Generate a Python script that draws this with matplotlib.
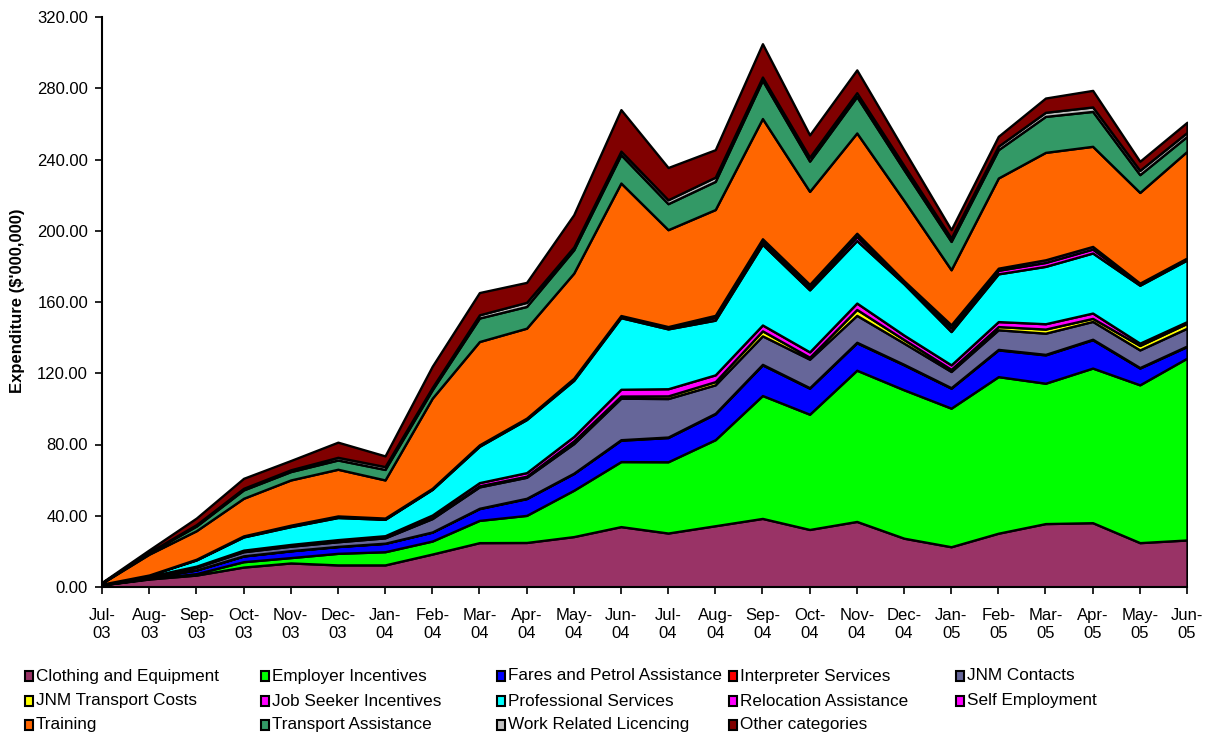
import matplotlib
matplotlib.use("Agg")
import matplotlib.pyplot as plt
from matplotlib.patches import Rectangle
from matplotlib.ticker import FormatStrFormatter
import numpy as np

plt.rcParams['font.family'] = ['Liberation Sans', 'DejaVu Sans']

months = ["Jul-03", "Aug-03", "Sep-03", "Oct-03", "Nov-03", "Dec-03",
          "Jan-04", "Feb-04", "Mar-04", "Apr-04", "May-04", "Jun-04",
          "Jul-04", "Aug-04", "Sep-04", "Oct-04", "Nov-04", "Dec-04",
          "Jan-05", "Feb-05", "Mar-05", "Apr-05", "May-05", "Jun-05"]

# Monthly expenditure by category ($'000,000), stacked bottom to top
clothing = [1.2, 4.5, 6.7, 11.2, 13.5, 12.4, 12.4, 18.5, 24.9, 25.0, 28.3, 33.9,
            30.3, 34.4, 38.5, 32.3, 36.8, 27.4, 22.6, 30.2, 35.6, 36.1, 24.9, 26.4]
employer = [0.0, 0.3, 0.8, 3.0, 3.0, 6.5, 7.4, 7.3, 12.5, 15.2, 26.0, 36.5,
            40.0, 48.3, 69.0, 64.7, 84.9, 83.3, 77.8, 87.9, 78.8, 86.8, 88.6, 102.1]
fares = [0.1, 0.6, 2.0, 3.2, 3.8, 3.8, 4.7, 5.0, 6.6, 9.4, 9.4, 12.0,
         13.6, 14.5, 17.2, 14.6, 15.4, 14.0, 11.2, 15.0, 15.9, 15.9, 9.4, 6.5]
interpreter = [0.0, 0.05, 0.1, 0.1, 0.1, 0.1, 0.1, 0.1, 0.2, 0.2, 0.2, 0.3,
               0.3, 0.3, 0.3, 0.3, 0.3, 0.3, 0.3, 0.3, 0.3, 0.3, 0.3, 0.3]
jnm_contacts = [0.1, 0.4, 1.5, 2.3, 2.5, 2.6, 3.0, 7.5, 12.0, 11.8, 16.6, 23.3,
                21.6, 16.0, 16.0, 16.0, 15.1, 11.9, 9.1, 11.0, 11.9, 10.0, 9.9, 10.0]
jnm_transport = [0.05, 0.1, 0.3, 0.4, 0.4, 0.4, 0.4, 0.5, 0.6, 0.6, 1.5, 1.2,
                 1.5, 1.8, 2.8, 1.1, 3.3, 2.0, 1.2, 1.8, 2.3, 1.7, 2.5, 2.7]
job_seeker = [0.05, 0.1, 0.3, 0.5, 0.6, 0.8, 0.8, 1.5, 1.8, 2.0, 2.5, 3.8,
              4.0, 3.8, 3.3, 3.0, 3.6, 2.5, 2.5, 2.8, 3.0, 3.0, 1.3, 1.0]
professional = [0.1, 0.6, 3.5, 7.4, 10.0, 12.4, 9.2, 14.4, 20.4, 29.8, 31.5, 40.2,
                33.6, 30.7, 45.3, 34.8, 35.1, 28.8, 18.7, 26.8, 32.2, 33.7, 32.5, 34.6]
relocation = [0.0, 0.05, 0.2, 0.3, 0.4, 0.4, 0.3, 0.3, 0.4, 0.4, 0.6, 0.6,
              0.7, 1.5, 1.6, 1.6, 2.2, 0.9, 2.0, 2.0, 2.2, 2.2, 0.6, 0.6]
self_employment = [0.0, 0.05, 0.2, 0.3, 0.4, 0.5, 0.4, 0.3, 0.4, 0.4, 0.6, 0.6,
                   0.6, 1.2, 1.5, 1.5, 1.9, 0.8, 1.8, 1.2, 1.5, 1.5, 0.6, 0.5]
training = [0.6, 11.7, 16.0, 21.1, 25.4, 26.2, 21.4, 50.6, 58.0, 50.5, 59.0, 74.4,
            54.4, 59.4, 67.5, 52.2, 56.3, 45.1, 30.9, 50.6, 60.3, 56.2, 50.9, 59.9]
transport_assist = [0.1, 0.8, 2.6, 4.7, 4.7, 5.2, 5.9, 4.7, 13.2, 12.2, 13.1, 15.9,
                    14.6, 15.8, 21.5, 17.0, 20.4, 17.2, 15.9, 15.9, 20.2, 19.6, 10.0, 8.4]
licencing = [0.05, 0.3, 0.8, 0.9, 1.0, 1.5, 1.6, 1.3, 1.8, 2.3, 1.6, 2.0,
             2.2, 2.4, 1.8, 2.2, 2.2, 2.4, 1.9, 2.0, 2.3, 2.5, 2.4, 2.2]
other = [0.3, 1.3, 3.7, 5.6, 5.2, 8.5, 6.0, 11.9, 12.5, 11.2, 18.1, 23.3,
         18.1, 15.4, 18.7, 12.5, 12.8, 8.7, 4.7, 5.5, 8.0, 9.3, 5.1, 5.7]

categories = ["Clothing and Equipment", "Employer Incentives",
              "Fares and Petrol Assistance", "Interpreter Services",
              "JNM Contacts", "JNM Transport Costs", "Job Seeker Incentives",
              "Professional Services", "Relocation Assistance",
              "Self Employment", "Training", "Transport Assistance",
              "Work Related Licencing", "Other categories"]
series = [clothing, employer, fares, interpreter, jnm_contacts, jnm_transport,
          job_seeker, professional, relocation, self_employment, training,
          transport_assist, licencing, other]
colors = ["#993366", "#00FF00", "#0000FF", "#FF0000", "#666699", "#FFFF00",
          "#FF00FF", "#00FFFF", "#FF00FF", "#FF00FF", "#FF6600", "#339966",
          "#C0C0C0", "#800000"]

W, H = 1212, 735
fig = plt.figure(figsize=(W / 100, H / 100), dpi=100)
ax = fig.add_axes([102 / W, (H - 587) / H, (1187 - 102) / W, (587 - 17) / H])

x = np.arange(len(months))
ax.stackplot(x, *series, colors=colors, edgecolor="black", linewidth=1.7)

ax.set_xlim(0, len(months) - 1)
ax.set_ylim(0, 320)
ax.set_yticks(np.arange(0, 321, 40))
ax.yaxis.set_major_formatter(FormatStrFormatter("%.2f"))
ax.set_xticks(x)
ax.set_xticklabels([m.replace("-", "-\n") for m in months], linespacing=1.25)
ax.tick_params(axis="both", direction="out", length=5, width=1.2,
               labelsize=12, colors="black")
ax.tick_params(axis="x", pad=10)
ax.tick_params(axis="y", pad=5)

for side in ("top", "right"):
    ax.spines[side].set_visible(False)
for side in ("left", "bottom"):
    ax.spines[side].set_linewidth(1.5)
    ax.spines[side].set_color("black")
ax.set_zorder(1)

fig.text(18 / W, 1 - 301 / H, "Expenditure ($'000,000)", rotation=90,
         ha="center", va="center", fontsize=12, fontweight="bold")

# Legend laid out in rows of five
col_x = [25, 261, 497, 729, 956]
row_y = [676, 701, 725]
for i, (name, col) in enumerate(zip(categories, colors)):
    r, c = divmod(i, 5)
    sx, sy = col_x[c], row_y[r]
    fig.patches.append(Rectangle((sx / W, 1 - (sy + 5) / H), 8 / W, 10 / H,
                                 transform=fig.transFigure, facecolor=col,
                                 edgecolor="black", linewidth=1.5))
    fig.text((sx + 11) / W, 1 - sy / H, name, ha="left", va="center",
             fontsize=12.3)

fig.savefig("out.png", dpi=100)
